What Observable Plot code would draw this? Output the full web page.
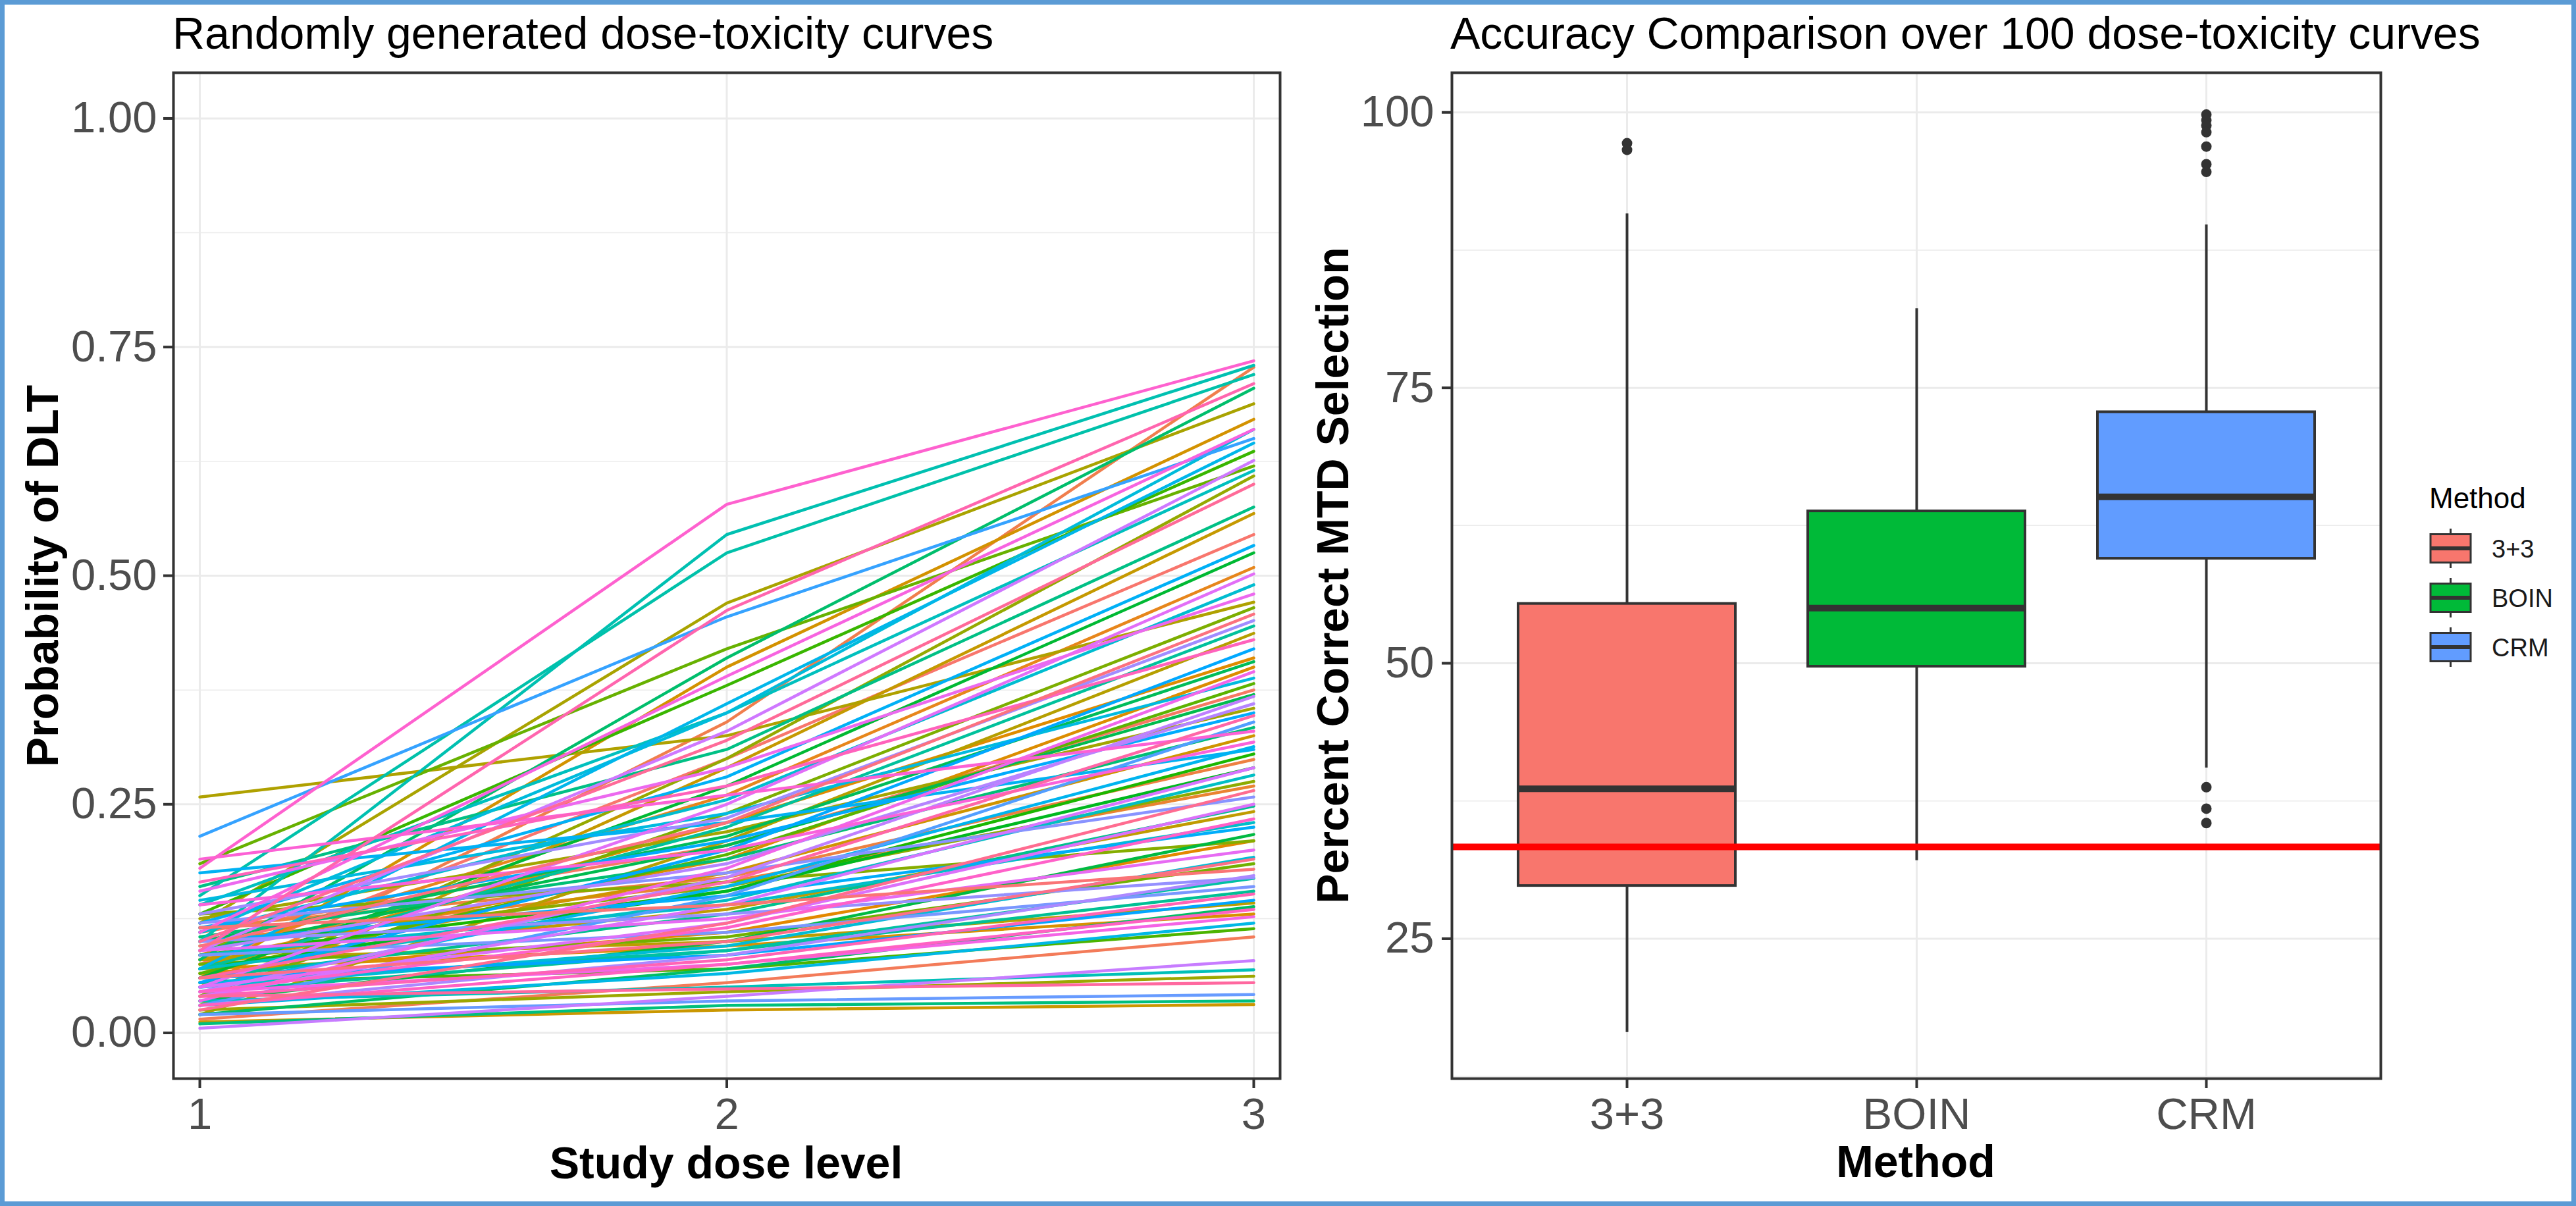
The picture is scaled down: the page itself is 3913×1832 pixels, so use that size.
<!DOCTYPE html>
<html>
<head>
<meta charset="utf-8">
<script src="https://cdn.jsdelivr.net/npm/d3@7"></script>
<script src="https://cdn.jsdelivr.net/npm/@observablehq/plot@0.6"></script>
<style>
  html, body { margin: 0; padding: 0; background: #fff; }
  #page { position: relative; width: 3913px; height: 1832px; background: #fff; overflow: hidden; font-family: "Liberation Sans", Arial, sans-serif; }
  #left { position: absolute; left: 0; top: 0; width: 1960px; height: 1832px; }
  #right { position: absolute; left: 1960px; top: 0; width: 1953px; height: 1832px; }
  #overlay { position: absolute; left: 0; top: 0; }
  #frameBorder { position: absolute; left: 0; top: 0; width: 3913px; height: 1832px; box-sizing: border-box; border: 7px solid #5b9bd5; pointer-events: none; }
  svg { max-width: none !important; }
</style>
</head>
<body>
<div id="page">
  <div id="left"></div>
  <div id="right"></div>
  <svg id="overlay" width="3913" height="1832"></svg>
  <div id="frameBorder"></div>
</div>
<script>
// ---------------- Data: left panel (100 dose-toxicity curves) ----------------
const doseLevels = [1, 2, 3];
const dose1 = [0.075,0.11,0.015,0.05,0.115,0.10,0.085,0.065,0.07,0.08,
  0.07,0.06,0.075,0.012,0.03,0.08,0.08,0.02,0.258,0.12,
  0.125,0.025,0.04,0.095,0.13,0.04,0.075,0.185,0.065,0.055,
  0.13,0.085,0.07,0.06,0.035,0.09,0.10,0.02,0.08,0.105,
  0.01,0.16,0.06,0.045,0.07,0.055,0.15,0.10,0.035,0.14,
  0.07,0.085,0.11,0.05,0.11,0.145,0.03,0.07,0.05,0.175,
  0.12,0.10,0.115,0.055,0.06,0.215,0.03,0.02,0.085,0.12,
  0.10,0.13,0.03,0.09,0.045,0.005,0.09,0.04,0.05,0.05,
  0.09,0.155,0.035,0.045,0.11,0.14,0.19,0.18,0.045,0.03,
  0.165,0.04,0.09,0.06,0.04,0.10,0.025,0.06,0.095,0.115];
const dose2 = [0.30,0.205,0.055,0.34,0.17,0.165,0.26,0.11,0.23,0.19,
  0.095,0.40,0.175,0.025,0.29,0.135,0.10,0.21,0.325,0.47,
  0.22,0.045,0.30,0.16,0.165,0.24,0.105,0.42,0.195,0.07,
  0.38,0.155,0.155,0.27,0.10,0.205,0.215,0.07,0.41,0.19,
  0.03,0.31,0.13,0.09,0.225,0.09,0.525,0.545,0.05,0.35,
  0.145,0.14,0.255,0.095,0.35,0.24,0.065,0.36,0.16,0.23,
  0.28,0.15,0.21,0.20,0.085,0.455,0.15,0.035,0.11,0.175,
  0.13,0.235,0.085,0.185,0.17,0.04,0.33,0.14,0.12,0.25,
  0.125,0.29,0.18,0.075,0.39,0.20,0.26,0.578,0.115,0.075,
  0.27,0.08,0.462,0.165,0.048,0.32,0.12,0.10,0.23,0.14];
const dose3 = [0.545,0.375,0.105,0.728,0.299,0.270,0.509,0.210,0.410,0.400,
  0.130,0.671,0.325,0.031,0.568,0.242,0.142,0.437,0.471,0.688,
  0.355,0.062,0.609,0.275,0.210,0.465,0.185,0.620,0.382,0.114,
  0.636,0.305,0.290,0.525,0.217,0.370,0.406,0.138,0.705,0.334,
  0.035,0.575,0.248,0.155,0.445,0.169,0.720,0.730,0.069,0.615,
  0.282,0.230,0.490,0.192,0.660,0.388,0.120,0.645,0.313,0.310,
  0.533,0.225,0.350,0.420,0.145,0.650,0.340,0.042,0.160,0.258,
  0.170,0.451,0.172,0.360,0.368,0.079,0.626,0.290,0.250,0.502,
  0.200,0.480,0.395,0.127,0.660,0.318,0.330,0.735,0.234,0.135,
  0.430,0.152,0.710,0.347,0.055,0.600,0.265,0.190,0.458,0.179];
const leftYTicks = [0, 0.25, 0.5, 0.75, 1];
const leftYMinor = [0.125, 0.375, 0.625, 0.875];

// ---------------- Data: right panel (boxplots) ----------------
const methods = ["3+3", "BOIN", "CRM"];
const whiskerLow = [16.5, 32.1, 40.5];
const boxQ1 = [29.8, 49.7, 59.5];
const boxMedian = [38.6, 55.0, 65.1];
const boxQ3 = [55.4, 63.8, 72.8];
const whiskerHigh = [90.8, 82.2, 89.8];
const outlierMethod = ["3+3", "3+3", "CRM", "CRM", "CRM", "CRM", "CRM", "CRM", "CRM", "CRM", "CRM", "CRM"];
const outlierValue = [97.2, 96.6, 99.8, 99.3, 98.8, 98.2, 96.9, 95.3, 94.6, 38.75, 36.8, 35.5];
const randomChance = 100 / 3;
const rightYTicks = [25, 50, 75, 100];
const rightYMinor = [12.5, 37.5, 62.5, 87.5];
const methodColors = ["#F8766D", "#00BA38", "#619CFF"];

// ---------------- ggplot-style hue palette (polar LUV) ----------------
function hclLuv(h, c, l) {
  const hr = h * Math.PI / 180;
  const u = c * Math.cos(hr), v = c * Math.sin(hr);
  const un = 0.1978398, vn = 0.4683363;
  const Y = l > 8 ? Math.pow((l + 16) / 116, 3) : l / 903.3;
  const up = u / (13 * l) + un, vp = v / (13 * l) + vn;
  const X = Y * 9 * up / (4 * vp);
  const Z = Y * (12 - 3 * up - 20 * vp) / (4 * vp);
  const lin = [
    3.240479 * X - 1.537150 * Y - 0.498535 * Z,
    -0.969256 * X + 1.875992 * Y + 0.041556 * Z,
    0.055648 * X - 0.204043 * Y + 1.057311 * Z
  ];
  const g = lin.map(x => {
    const s = x <= 0.0031308 ? 12.92 * x : 1.055 * Math.pow(x, 1 / 2.4) - 0.055;
    return Math.round(Math.max(0, Math.min(1, s)) * 255);
  });
  return `rgb(${g[0]},${g[1]},${g[2]})`;
}
const nCurves = dose1.length;
const curveIds = d3.range(nCurves);
const curvePalette = curveIds.map(i => hclLuv(15 + 360 * i / nCurves, 100, 65));

const curveRows = [];
curveIds.forEach(i => {
  [dose1[i], dose2[i], dose3[i]].forEach((p, k) => curveRows.push({id: i, dose: doseLevels[k], p}));
});

const boxRows = methods.map((m, i) => ({
  method: m, lo: whiskerLow[i], q1: boxQ1[i], med: boxMedian[i], q3: boxQ3[i], hi: whiskerHigh[i]
}));
const outlierRows = outlierValue.map((v, i) => ({method: outlierMethod[i], value: v}));

const FONT = "'Liberation Sans', Arial, sans-serif";
const GRID = "#EBEBEB";
const INK = "#333333";
const TICKTXT = "#4D4D4D";

// ---------------- Left plot ----------------
const leftPlot = Plot.plot({
  width: 1960, height: 1832,
  marginLeft: 263, marginRight: 16, marginTop: 110, marginBottom: 194,
  style: {fontFamily: FONT, background: "transparent", overflow: "visible"},
  x: {domain: [0.95, 3.05]},
  y: {domain: [-0.05, 1.05]},
  color: {domain: curveIds, range: curvePalette},
  marks: [
    Plot.gridY(leftYMinor, {stroke: GRID, strokeOpacity: 1, strokeWidth: 1.5}),
    Plot.gridY(leftYTicks, {stroke: GRID, strokeOpacity: 1, strokeWidth: 3}),
    Plot.gridX(doseLevels, {stroke: GRID, strokeOpacity: 1, strokeWidth: 3}),
    Plot.line(curveRows, {x: "dose", y: "p", z: "id", stroke: "id", strokeWidth: 4.5}),
    Plot.frame({stroke: INK, strokeWidth: 4}),
    Plot.axisY({ticks: leftYTicks, tickFormat: d3.format(".2f"), tickSize: 15, tickPadding: 10,
      fontSize: 67, fill: TICKTXT, stroke: INK, strokeWidth: 4, label: null}),
    Plot.axisX({ticks: doseLevels, tickFormat: d3.format("d"), tickSize: 15, tickPadding: 14,
      fontSize: 67, fill: TICKTXT, stroke: INK, strokeWidth: 4, label: null})
  ]
});
document.getElementById("left").appendChild(leftPlot);

// ---------------- Right plot ----------------
const rightPlot = Plot.plot({
  width: 1953, height: 1832,
  marginLeft: 245, marginRight: 297, marginTop: 110, marginBottom: 194,
  style: {fontFamily: FONT, background: "transparent", overflow: "visible"},
  x: {type: "band", domain: methods, paddingInner: 0.25, paddingOuter: 0.225},
  y: {domain: [12.3, 103.6]},
  color: {domain: methods, range: methodColors},
  marks: [
    Plot.gridY(rightYMinor, {stroke: GRID, strokeOpacity: 1, strokeWidth: 1.5}),
    Plot.gridY(rightYTicks, {stroke: GRID, strokeOpacity: 1, strokeWidth: 3}),
    Plot.gridX(methods, {stroke: GRID, strokeOpacity: 1, strokeWidth: 3}),
    Plot.ruleX(boxRows, {x: "method", y1: "lo", y2: "q1", stroke: INK, strokeWidth: 4}),
    Plot.ruleX(boxRows, {x: "method", y1: "q3", y2: "hi", stroke: INK, strokeWidth: 4}),
    Plot.barY(boxRows, {x: "method", y1: "q1", y2: "q3", fill: "method", stroke: INK, strokeWidth: 4}),
    Plot.tickY(boxRows, {x: "method", y: "med", stroke: INK, strokeWidth: 10}),
    Plot.dot(outlierRows, {x: "method", y: "value", r: 8, fill: INK, stroke: "none"}),
    Plot.ruleY([randomChance], {stroke: "#FF0000", strokeWidth: 10}),
    Plot.frame({stroke: INK, strokeWidth: 4}),
    Plot.axisY({ticks: rightYTicks, tickFormat: d3.format("d"), tickSize: 15, tickPadding: 12,
      fontSize: 67, fill: TICKTXT, stroke: INK, strokeWidth: 4, label: null}),
    Plot.axisX({tickSize: 15, tickPadding: 14, fontSize: 67, fill: TICKTXT, stroke: INK, strokeWidth: 4, label: null})
  ]
});
document.getElementById("right").appendChild(rightPlot);

// ---------------- Titles, axis titles, legend ----------------
const ov = d3.select("#overlay").style("font-family", FONT);
function txt(x, y, s, size, opts = {}) {
  const t = ov.append("text").attr("x", x).attr("y", y).attr("font-size", size)
    .attr("fill", opts.fill || "#000").attr("text-anchor", opts.anchor || "start")
    .attr("font-weight", opts.bold ? "bold" : "normal").text(s);
  if (opts.rotate) t.attr("x", 0).attr("y", 0).attr("transform", `translate(${x},${y}) rotate(-90)`);
  return t;
}
txt(262, 74, "Randomly generated dose-toxicity curves", 68);
txt(2203, 74, "Accuracy Comparison over 100 dose-toxicity curves", 68);
txt(88, 875, "Probability of DLT", 68, {bold: true, anchor: "middle", rotate: true});
txt(2048, 874, "Percent Correct MTD Selection", 68, {bold: true, anchor: "middle", rotate: true});
txt(1103, 1790, "Study dose level", 68, {bold: true, anchor: "middle"});
txt(2910, 1788, "Method", 68, {bold: true, anchor: "middle"});

// legend
txt(3690, 772, "Method", 44);
const keyCenters = [833, 908, 983];
methods.forEach((m, i) => {
  const cy = keyCenters[i];
  const g = ov.append("g");
  g.append("line").attr("x1", 3722.5).attr("x2", 3722.5).attr("y1", cy - 30).attr("y2", cy + 30)
    .attr("stroke", INK).attr("stroke-width", 3);
  g.append("rect").attr("x", 3692).attr("y", cy - 21.5).attr("width", 61).attr("height", 43)
    .attr("fill", methodColors[i]).attr("stroke", INK).attr("stroke-width", 3);
  g.append("line").attr("x1", 3692).attr("x2", 3753).attr("y1", cy).attr("y2", cy)
    .attr("stroke", INK).attr("stroke-width", 6);
  txt(3785, cy + 14, m, 38, {fill: "#1a1a1a"});
});
</script>
</body>
</html>
